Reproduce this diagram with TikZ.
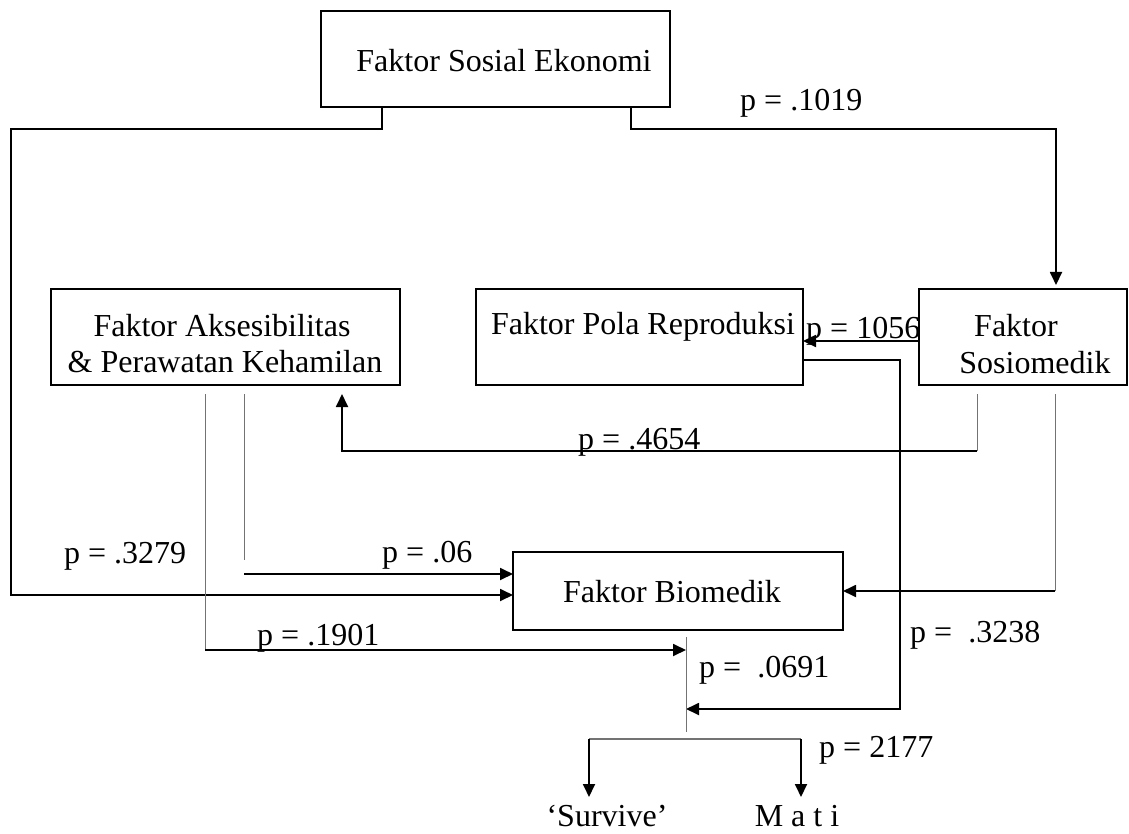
\documentclass[tikz,border=0pt]{standalone}
\usepackage{fontspec}
\setmainfont{Liberation Serif}
\usetikzlibrary{arrows.meta,calc}
\begin{document}
\begin{tikzpicture}[x=1pt,y=-1pt,
  box/.style={draw, line width=2.4pt, anchor=north west, inner sep=0pt, outer sep=0pt},
  txt/.style={anchor=base, inner sep=0pt, font=\fontsize{32}{38}\selectfont},
  lbl/.style={anchor=base west, inner sep=0pt, font=\fontsize{32}{38}\selectfont},
  link/.style={line width=1.8pt, -{Triangle[length=13pt,width=12pt]}},
  faint/.style={line width=1pt, black!55},
]
\useasboundingbox (0,0) rectangle (1129,834);

% factor boxes
\node[box, minimum width=349pt, minimum height=96pt] (sosek) at (321,11) {};
\node[box, minimum width=349pt, minimum height=96pt] (akses) at (51,289) {};
\node[box, minimum width=327pt, minimum height=96pt] (pola)  at (476,289) {};
\node[box, minimum width=208pt, minimum height=96pt] (sosio) at (919,289) {};
\node[box, minimum width=330pt, minimum height=78pt] (bio)   at (513,552) {};

% box texts
\node[txt] (tsosek)  at (504,72)  {Faktor Sosial Ekonomi};
\node[txt] (takses1) at (222,336) {Faktor Aksesibilitas};
\node[txt] (takses2) at (225,372) {\& Perawatan Kehamilan};
\node[txt] (tpola)   at (643,334) {Faktor Pola Reproduksi};
\node[txt] (tsosio1) at (1016,336) {Faktor};
\node[txt] (tsosio2) at (1035,373) {Sosiomedik};
\node[txt] (tbio)    at (672,602) {Faktor Biomedik};

% outcomes
\node[txt] (survive) at (607,826) {‘Survive’};
\node[txt] (mati)    at (797,826) {M a t i};

% junction points below the biomedical box
\coordinate (jtop) at ($(bio.south west)+(173,7)$);
\coordinate (jbot) at (686,732);
\coordinate (jin1) at (686,650);
\coordinate (jin2) at (686,709);

% socio-economic factor -> biomedical factor (outer left route)
\draw[link] ($(sosek.south west)+(61,0)$) -- (382,129) -- (11,129) -- (11,595)
  -- ($(bio.north west)+(0,43)$);
% socio-economic factor -> sociomedical factor
\draw[link] ($(sosek.south west)+(310,0)$) -- (631,129) -- (1056,129)
  -- ($(sosio.north west)+(137,-4)$);
% sociomedical -> reproduction pattern
\draw[link] ($(sosio.north west)+(0,52)$) -- ($(pola.north east)+(0,52)$);
% reproduction pattern -> outcome junction
\draw[link] ($(pola.north east)+(0,71)$) -- (900,360) -- (900,709) -- (jin2);
% sociomedical -> accessibility
\draw[faint] ($(sosio.south west)+(58,9)$) -- (977,451);
\draw[link] (977,451) -- (342,451) -- ($(akses.south west)+(291,9)$);
% sociomedical -> biomedical
\draw[faint] ($(sosio.south west)+(136,9)$) -- (1055,591);
\draw[link] (1055,591) -- (bio.east);
% accessibility -> biomedical
\draw[faint] ($(akses.south west)+(193,9)$) -- (244,560);
\draw[link] (244,574) -- ($(bio.north west)+(0,22)$);
% accessibility -> outcome junction
\draw[faint] ($(akses.south west)+(154,9)$) -- (205,650);
\draw[link] (205,650) -- (jin1);
% biomedical -> outcomes
\draw[faint] (jtop) -- (jbot);
\draw[faint, line width=1.3pt] (589,739) -- (801,739);
\draw[link] (589,739) -- (589,797);
\draw[link] (801,739) -- (801,797);

% path coefficients
\node[lbl] (p1019) at (740,111) {p = .1019};
\node[lbl] (p1056) at (806,338) {p = 1056};
\node[lbl] (p4654) at (578,449) {p = .4654};
\node[lbl] (p3279) at (64,563)  {p = .3279};
\node[lbl] (p06)   at (382,562) {p = .06};
\node[lbl] (p1901) at (257,645) {p = .1901};
\node[lbl] (p0691) at (699,677) {p = \ .0691};
\node[lbl] (p3238) at (910,642) {p = \ .3238};
\node[lbl] (p2177) at (819,757) {p = 2177};
\end{tikzpicture}
\end{document}
